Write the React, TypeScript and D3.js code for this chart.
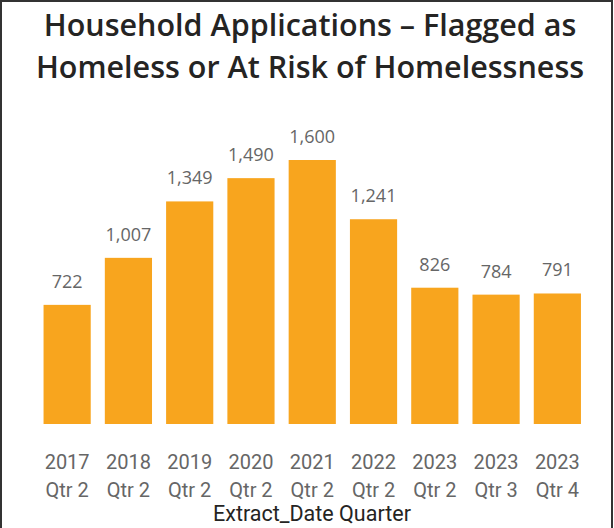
import React from "react";
import * as d3 from "d3";

const categories = ["2017 Qtr 2", "2018 Qtr 2", "2019 Qtr 2", "2020 Qtr 2", "2021 Qtr 2", "2022 Qtr 2", "2023 Qtr 2", "2023 Qtr 3", "2023 Qtr 4"];
const values = [722, 1007, 1349, 1490, 1600, 1241, 826, 784, 791];
const titleLines = ["Household Applications – Flagged as", "Homeless or At Risk of Homelessness"];
const axisTitle = "Extract_Date Quarter";

export default function App() {
  const W = 614, H = 528;
  const x = d3.scaleBand<string>().domain(categories).range([36.5, 588]).paddingInner(0.23).paddingOuter(0.115);
  const y = d3.scaleLinear().domain([0, 1600]).range([424, 160]);
  const fmt = d3.format(",");
  return (
    <svg width={W} height={H} style={{ position: "absolute", left: 0, top: 0, background: "#fff" }}>
      <rect x={1} y={1} width={611} height={H + 10} fill="#fff" stroke="#333" strokeWidth={2} />
      {titleLines.map((t, i) => (
        <text key={i} x={310} y={36 + i * 42} textAnchor="middle" fontFamily="'Open Sans', sans-serif" fontWeight={600} fontSize={30.5} fill="#252423">{t}</text>
      ))}
      {values.map((v, i) => {
        const c = categories[i];
        const bx = x(c)!;
        const parts = c.split(" ");
        const lines = [parts[0], parts.slice(1).join(" ")];
        return (
          <g key={c}>
            <rect x={bx} y={y(v)} width={x.bandwidth()} height={y(0) - y(v)} fill="#F8A51E" />
            <text x={bx + x.bandwidth() / 2} y={y(v) - 17} textAnchor="middle" fontFamily="'Open Sans', sans-serif" fontSize={18} fill="#666">{fmt(v)}</text>
            {lines.map((ln, j) => (
              <text key={j} x={bx + x.bandwidth() / 2} y={469 + j * 28} textAnchor="middle" fontFamily="Roboto, sans-serif" fontSize={20} fill="#666">{ln}</text>
            ))}
          </g>
        );
      })}
      <text x={312} y={521} textAnchor="middle" fontFamily="Roboto, sans-serif" fontSize={21.5} fill="#252423">{axisTitle}</text>
    </svg>
  );
}
